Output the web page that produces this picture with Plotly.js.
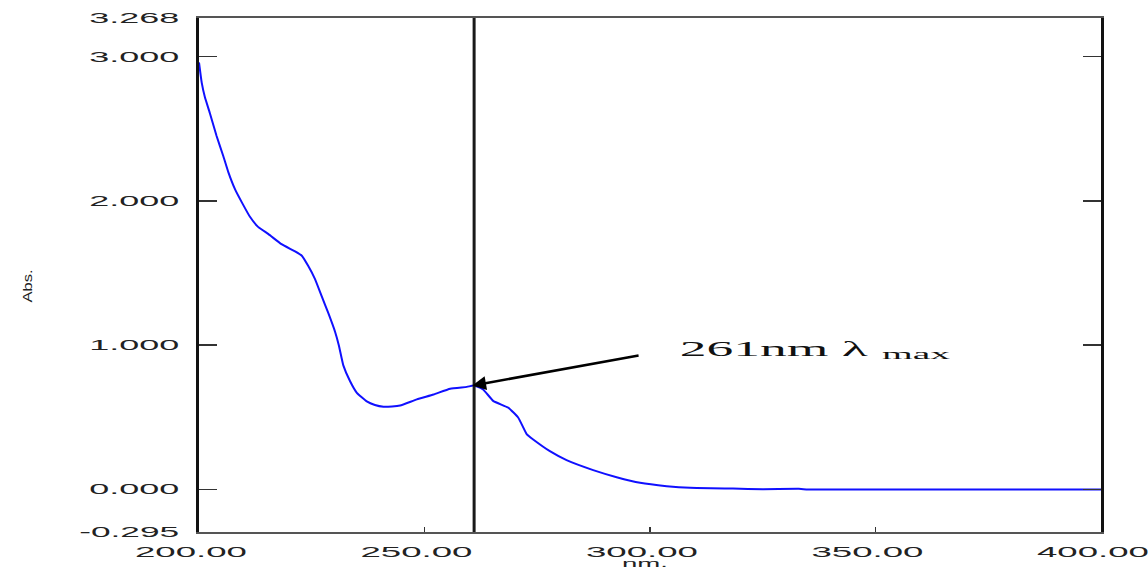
<!DOCTYPE html>
<html>
<head>
<meta charset="utf-8">
<script src="https://cdn.plot.ly/plotly-3.0.1.min.js"></script>
<style>
html,body{margin:0;padding:0;background:#fff;}
#chart{width:1148px;height:569px;}
</style>
</head>
<body>
<div id="chart"></div>
<script>
// Wavelength (nm) and absorbance
const wavelength = [200.0, 200.6, 201.3, 202.4, 203.9, 205.4, 206.5, 208.0, 209.5, 211.3,
  213.1, 215.4, 218.3, 221.3, 222.8, 224.2, 225.7, 227.2, 228.7, 230.2,
  231.0, 232.0, 233.5, 235.0, 237.2, 239.0, 240.9, 242.8, 244.6, 248.3,
  252.0, 255.7, 259.4, 260.8, 261.5, 263.0, 265.3, 268.6, 270.8, 272.7,
  274.1, 277.8, 281.5, 287.4, 292.6, 297.8, 303.7, 308.9, 318.4, 325.0,
  333.0, 335.0, 350.0, 375.0, 400.0];
const absorbance = [2.96, 2.82, 2.72, 2.61, 2.45, 2.31, 2.20, 2.08, 1.99, 1.89,
  1.82, 1.77, 1.70, 1.65, 1.62, 1.55, 1.46, 1.34, 1.22, 1.09,
  1.00, 0.86, 0.75, 0.67, 0.61, 0.585, 0.573, 0.575, 0.582, 0.624,
  0.658, 0.698, 0.711, 0.72, 0.715, 0.693, 0.612, 0.566, 0.497, 0.381,
  0.346, 0.265, 0.203, 0.134, 0.085, 0.046, 0.023, 0.011, 0.006, 0.002,
  0.004, 0.0, 0.0, -0.001, -0.001];

const xTickVals = [200, 250, 300, 350, 400];
const xTickText = ['200.00', '250.00', '300.00', '350.00', '400.00'];
const yTickVals = [-0.295, 0, 1, 2, 3, 3.268];
const yTickText = ['-0.295', '0.000', '1.000', '2.000', '3.000', '3.268'];
const lambdaMax = 261;
const peakPoint = [260.6, 0.72];
const arrowTail = [297.8, 0.93];
const labelMain = '261nm λ';
const labelSub = 'max';

const trace = {
  x: wavelength, y: absorbance, type: 'scatter', mode: 'lines',
  line: {color: '#1010ff', width: 2, shape: 'spline', smoothing: 0.4},
  hoverinfo: 'skip', showlegend: false
};

const tickFont = {family: 'Liberation Sans, Arial, sans-serif', size: 14, color: '#222'};

const layout = {
  width: 1148, height: 569,
  margin: {l: 199, r: 47, t: 18, b: 37, pad: 0},
  paper_bgcolor: '#fff', plot_bgcolor: '#fff',
  showlegend: false,
  xaxis: {
    range: [200, 400], tickvals: xTickVals, ticktext: xTickText,
    ticks: 'inside', ticklen: 5, tickwidth: 1.5, tickcolor: '#333',
    showline: true, linecolor: '#555', linewidth: 2, mirror: true,
    showgrid: false, zeroline: false, tickfont: tickFont,
    ticklabelstandoff: 6,
    title: {text: 'nm.', font: {family: 'Liberation Sans, Arial, sans-serif', size: 10, color: '#222'}, standoff: 16}
  },
  yaxis: {
    range: [-0.295, 3.268], tickvals: yTickVals, ticktext: yTickText,
    ticks: 'inside', ticklen: 18, tickwidth: 1.5, tickcolor: '#333',
    showline: true, linecolor: '#111', linewidth: 3, mirror: 'ticks',
    showgrid: false, zeroline: false, tickfont: tickFont,
    ticklabelstandoff: 14,
    title: {text: 'Abs.', font: {family: 'Liberation Sans, Arial, sans-serif', size: 13, color: '#222'}, standoff: 104}
  },
  shapes: [{
    type: 'line', xref: 'x', yref: 'paper', x0: lambdaMax, x1: lambdaMax, y0: 0, y1: 1,
    line: {color: '#1a1a1a', width: 3}
  }],
  annotations: [
    {x: peakPoint[0], y: peakPoint[1], xref: 'x', yref: 'y',
     ax: arrowTail[0], ay: arrowTail[1], axref: 'x', ayref: 'y',
     text: '', showarrow: true, arrowhead: 2, arrowsize: 1.1, arrowwidth: 2.5, arrowcolor: '#000'},
    {x: 327.5, y: 0.975, xref: 'x', yref: 'y', text: labelMain, showarrow: false,
     xanchor: 'center', yanchor: 'middle',
     font: {family: 'Liberation Serif, Times New Roman, serif', size: 22, color: '#111'}},
    {x: 359.0, y: 0.94, xref: 'x', yref: 'y', text: labelSub, showarrow: false,
     xanchor: 'center', yanchor: 'middle',
     font: {family: 'Liberation Serif, Times New Roman, serif', size: 15, color: '#111'}}
  ]
};

Plotly.newPlot('chart', [trace], layout, {staticPlot: true, displayModeBar: false}).then(function () {
  // Horizontal stretch of labels, as in the reference
  document.querySelectorAll('.xaxislayer-above .xtick text').forEach(function (t) {
    t.setAttribute('textLength', 112);
    t.setAttribute('lengthAdjust', 'spacingAndGlyphs');
    t.setAttribute('dx', -8);
  });
  document.querySelectorAll('.yaxislayer-above .ytick text').forEach(function (t) {
    const w = t.textContent.length >= 6 ? 100 : 90;
    t.setAttribute('textLength', w);
    t.setAttribute('lengthAdjust', 'spacingAndGlyphs');
  });
  const xt = document.querySelector('.g-xtitle text');
  if (xt) {
    xt.setAttribute('textLength', 46); xt.setAttribute('lengthAdjust', 'spacingAndGlyphs'); xt.setAttribute('dx', -5);
  }
  const yt = document.querySelector('.g-ytitle text');
  if (yt) { yt.setAttribute('textLength', 33); yt.setAttribute('lengthAdjust', 'spacingAndGlyphs'); yt.setAttribute('dx', -11); }
  const ann = document.querySelectorAll('.annotation-text-g text');
  ann.forEach(function (t) {
    if (t.textContent === labelMain) { t.setAttribute('textLength', 188); t.setAttribute('lengthAdjust', 'spacingAndGlyphs'); }
    if (t.textContent === labelSub) { t.setAttribute('textLength', 68); t.setAttribute('lengthAdjust', 'spacingAndGlyphs'); }
  });
});
</script>
</body>
</html>
